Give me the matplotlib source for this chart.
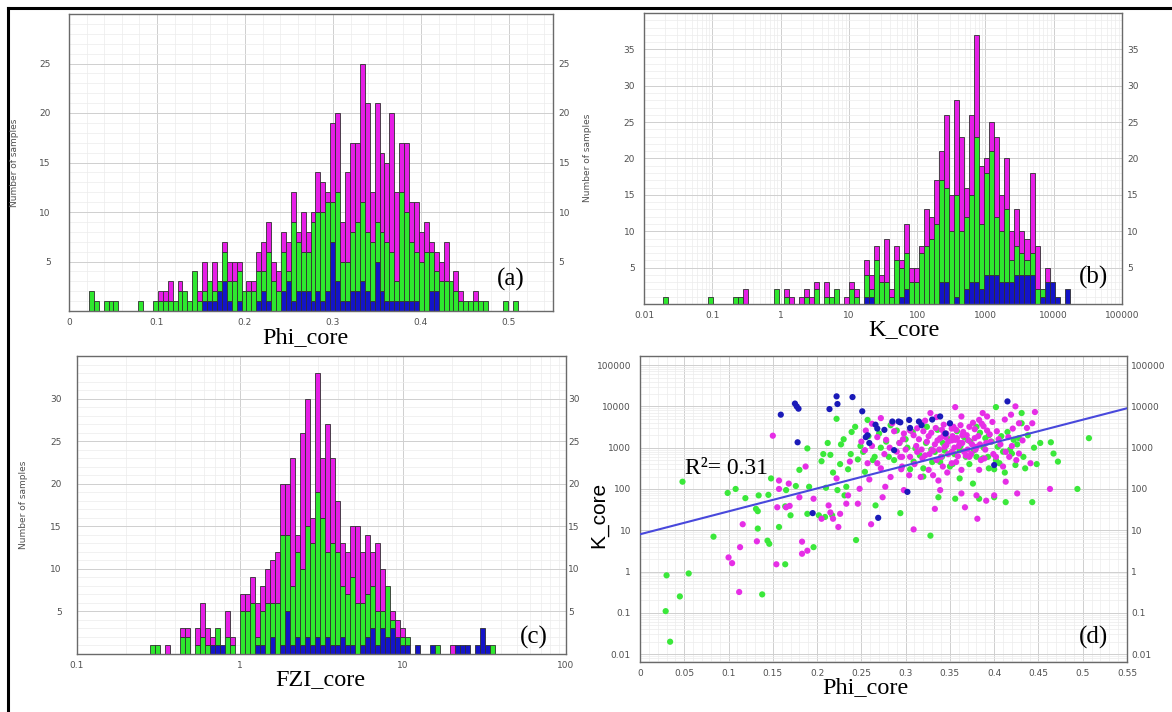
import numpy as np
import matplotlib
matplotlib.use('Agg')
import matplotlib.pyplot as plt
from matplotlib.ticker import FixedLocator, MultipleLocator, NullFormatter
from matplotlib.lines import Line2D

# ---------------- data ----------------
# (a) Phi_core histogram: linear bins
phi_bin_start = 0.0225
phi_bin_width = 0.0056
phi_blue = [0,0,0,0,0,0,0,0,0,0, 0,0,0,0,0,0,0,0,0,0, 0,0,0,1,1,1,2,3,1,0,
            1,0,0,0,1,2,1,0,0,2, 3,1,2,2,2,1,2,1,2,7, 3,1,1,2,2,3,2,1,5,2,
            1,1,1,1,1,1,1,0,0,2, 2,0,0,0,0,0,0,0,0,0, 0,0,0,0,0,0,0]
phi_green = [2,1,0,1,1,1,0,0,0,0, 1,0,0,1,1,1,1,1,2,2, 1,4,1,1,2,1,1,3,2,3,
             3,2,2,2,3,2,5,3,2,4, 1,8,5,4,4,8,8,9,9,4, 9,4,4,6,7,8,6,6,4,6,
             6,5,2,11,9,6,5,5,6,4, 2,3,3,3,2,1,1,1,1,1, 1,0,0,0,1,0,1]
phi_magenta = [0,0,0,0,0,0,0,0,0,0, 0,0,0,0,1,1,2,0,1,0, 0,0,1,3,0,3,0,1,2,2,
               1,0,1,1,2,3,3,2,2,2, 3,3,1,4,2,1,4,3,1,8, 8,4,9,9,8,14,13,5,12,8,
               8,14,9,5,7,4,5,3,3,1, 2,2,4,0,2,1,0,0,1,0, 0,0,0,0,0,0,0]

# (b) K_core histogram: log10 bins
k_bin_start = -1.72
k_bin_width = 0.0735
k_blue = [0]*40 + [1,1,0,0,0,0,0,1,2,0, 0,0,0,0,0,3,3,0,1,0,
                   2,3,3,2,4,4,4,3,3,3, 4,4,4,4,0,1,3,3,1,0, 2]
k_green = [1,0,0,0,0,0,0,0,0,1, 0,0,0,0,1,1,0,0,0,0, 0,0,2,0,1,0,0,0,1,0,
           2,0,1,1,2,0,0,2,1,0, 3,1,6,3,3,1,6,4,5,3, 3,7,8,9,11,14,13,10,14,10,
           10,12,20,9,14,17,8,7,10,3, 4,3,2,3,2,1,0,0,0,0, 0]
k_magenta = [0,0,0,0,0,0,0,0,0,0, 0,0,0,0,0,0,2,0,0,0, 0,0,0,0,1,1,0,1,1,1,
             1,0,2,0,0,0,1,1,1,0, 2,2,2,1,6,1,2,1,4,2, 2,1,5,3,6,4,10,5,13,13,
             4,11,14,8,2,4,11,5,7,4, 5,3,3,11,6,0,2,0,0,0, 0]

# (c) FZI_core histogram: log10 bins
fzi_bin_start = -0.55
fzi_bin_width = 0.0306
fzi_blue = [0,0,0,0,0,0,0,0,0,0, 0,0,1,1,1,0,0,0,0,0, 0,1,1,0,2,0,1,5,1,2,
            1,2,1,2,1,2,1,1,2,1, 1,0,1,2,3,1,3,2,3,2, 1,1,0,1,0,0,1,0,0,0,
            0,1,1,1,0,1,3,1,0]
fzi_green = [1,1,0,0,0,0,2,2,0,1, 2,1,0,2,0,2,1,0,5,5, 6,1,4,6,4,6,13,9,7,10,
             9,13,12,17,15,10,12,11,6,6, 8,6,5,5,5,4,2,6,1,0, 1,1,0,0,0,0,0,1,0,0,
             0,0,0,0,0,0,0,0,1]
fzi_magenta = [0,0,0,1,0,0,1,1,0,2, 4,2,1,0,0,3,1,0,2,2, 3,4,3,4,5,6,6,6,15,2,
               16,15,3,14,7,15,10,6,5,5, 6,9,6,7,4,8,5,0,1,2, 1,0,0,0,0,0,0,0,0,0,
               1,0,0,0,0,0,0,0,0]

# (d) scatter Phi_core vs K_core
green_phi = [0.030, 0.055, 0.045, 0.029, 0.034, 0.048, 0.083, 0.099, 0.108, 0.119,
             0.131, 0.133, 0.134, 0.133, 0.144, 0.146, 0.138, 0.145, 0.148, 0.157,
             0.165, 0.164, 0.164, 0.170, 0.176, 0.180, 0.189, 0.189, 0.191, 0.196,
             0.202, 0.205, 0.207, 0.209, 0.210, 0.215, 0.217, 0.222, 0.223, 0.227,
             0.231, 0.233, 0.235, 0.239, 0.244, 0.246, 0.252, 0.254, 0.257, 0.263,
             0.266, 0.270, 0.278, 0.281, 0.294, 0.293,
             0.402, 0.431, 0.452, 0.464, 0.467, 0.472, 0.494, 0.507, 0.424, 0.435,
             0.443, 0.413, 0.400, 0.383, 0.356, 0.337, 0.328, 0.376, 0.394, 0.404,
             0.406, 0.422, 0.428, 0.394, 0.380, 0.370, 0.361, 0.350, 0.341, 0.320,
             0.309, 0.324, 0.311, 0.333, 0.361, 0.387, 0.431, 0.420,
             0.342, 0.355, 0.366, 0.372, 0.390, 0.410, 0.415, 0.300, 0.290, 0.305,
             0.320, 0.345, 0.380, 0.400, 0.330,
             0.302, 0.308, 0.316, 0.323, 0.329, 0.336, 0.339, 0.344, 0.349, 0.353,
             0.358, 0.362, 0.368, 0.373, 0.377, 0.384, 0.388, 0.393, 0.397, 0.402,
             0.408, 0.412, 0.418, 0.426, 0.433, 0.438, 0.445, 0.448, 0.287, 0.283,
             0.272, 0.265, 0.258, 0.249, 0.243, 0.238, 0.230, 0.226, 0.218, 0.212]
green_K = [0.81, 0.9, 0.25, 0.11, 0.02, 150, 7, 80, 100, 60,
           33, 29, 70, 11, 5.6, 4.7, 0.28, 72, 180, 12,
           94, 1.5, 38, 23, 118, 290, 960, 25, 113, 3.9,
           23, 470, 700, 21, 107, 670, 23, 5000, 94, 1200,
           70, 113, 300, 2400, 5.8, 520, 790, 260, 4700, 500,
           40, 2200, 1400, 600, 26, 1300,
           9600, 6900, 1300, 1350, 720, 460, 100, 1700, 380, 316,
           48, 48, 63, 58, 58, 63, 7.4, 135, 316, 1050,
           420, 1550, 1700, 2000, 3200, 1550, 870, 350, 600, 316,
           460, 3200, 960, 790, 180, 550, 3900, 720,
           1300, 700, 1800, 400, 1700, 800, 2400, 1600, 2600, 300,
           200, 2200, 600, 300, 450,
           1000, 2400, 650, 1300, 900, 2700, 450, 850, 1600, 400,
           2500, 1100, 600, 1400, 850, 2300, 1000, 600, 1400, 500,
           1900, 250, 900, 1200, 600, 2000, 1000, 400, 500, 3500,
           1000, 600, 1900, 1100, 3200, 700, 1600, 400, 250, 1300]

magenta_phi = [0.150, 0.157, 0.157, 0.165, 0.155, 0.154, 0.116, 0.113, 0.100, 0.104,
               0.112, 0.132, 0.168, 0.169, 0.180, 0.183, 0.183, 0.189, 0.187, 0.196,
               0.205, 0.213, 0.215, 0.218, 0.224, 0.222, 0.226, 0.233, 0.235, 0.237,
               0.246, 0.248, 0.259, 0.261, 0.268, 0.272, 0.274, 0.277, 0.283, 0.254,
               0.257, 0.272, 0.278, 0.285, 0.296, 0.296, 0.298,
               0.356, 0.363, 0.424, 0.446, 0.419, 0.428, 0.443, 0.328, 0.387, 0.392,
               0.383, 0.372, 0.309, 0.320, 0.339, 0.346, 0.357, 0.364, 0.378, 0.344,
               0.352, 0.361, 0.330, 0.319, 0.335, 0.352, 0.363, 0.331, 0.337, 0.304,
               0.339, 0.333, 0.309, 0.363, 0.367, 0.380, 0.381, 0.391, 0.400, 0.413,
               0.426, 0.441, 0.463, 0.383, 0.402, 0.413, 0.417, 0.428, 0.372, 0.380,
               0.391, 0.293, 0.294, 0.313, 0.324, 0.348, 0.356, 0.341, 0.354, 0.313,
               0.298, 0.326, 0.317,
               0.345, 0.352, 0.360, 0.365, 0.370, 0.375, 0.333, 0.327, 0.318, 0.310,
               0.305, 0.295, 0.342, 0.347, 0.357, 0.368, 0.385, 0.390, 0.395, 0.405,
               0.410, 0.420, 0.398, 0.388, 0.378, 0.315, 0.322, 0.335, 0.343, 0.352,
               0.305, 0.312, 0.318, 0.322, 0.326, 0.329, 0.331, 0.334, 0.336, 0.338,
               0.340, 0.343, 0.346, 0.348, 0.350, 0.353, 0.355, 0.358, 0.359, 0.362,
               0.364, 0.366, 0.369, 0.371, 0.374, 0.376, 0.379, 0.382, 0.384, 0.386,
               0.389, 0.392, 0.396, 0.399, 0.403, 0.407, 0.412, 0.416, 0.421, 0.425,
               0.432, 0.437, 0.300, 0.297, 0.290, 0.287, 0.282, 0.276, 0.268, 0.262,
               0.262, 0.255, 0.250]
magenta_K = [1950, 160, 100, 36, 36, 1.5, 14, 3.9, 2.2, 1.6,
             0.32, 5.4, 135, 39, 63, 5.3, 2.7, 3.2, 350, 58,
             19, 40, 27, 19, 12, 180, 25, 44, 70, 460,
             44, 101, 170, 14, 420, 316, 63, 113, 195, 870,
             420, 5200, 1550, 3900, 600, 350, 94,
             9600, 5700, 10000, 7300, 6300, 3900, 3900, 6900, 6900, 5700,
             4700, 3200, 2000, 2500, 1700, 2200, 2700, 2000, 1700, 1050,
             790, 1300, 870, 550, 500, 420, 290, 215, 160, 215,
             94, 33, 10.5, 78, 36, 70, 19, 52, 70, 150,
             78, 420, 100, 290, 600, 790, 600, 720, 600, 1050,
             1300, 1300, 600, 790, 1400, 1400, 1550, 2700, 3200, 2950,
             2200, 290, 195,
             1800, 1500, 1100, 2400, 900, 1200, 1200, 700, 900, 400,
             600, 300, 350, 250, 450, 650, 500, 900, 2100, 1600,
             350, 1100, 4200, 3300, 2800, 1600, 4500, 5500, 3600, 2900,
             2600, 1100, 3800, 650, 1900, 2300, 850, 3000, 1500, 900,
             600, 2000, 1150, 700, 3800, 1900, 1000, 1700, 620, 3500,
             1300, 800, 2000, 1500, 700, 4000, 900, 1900, 1200, 3800,
             550, 2600, 1400, 700, 2500, 1200, 4800, 1800, 2900, 500,
             1500, 3000, 900, 1600, 800, 2500, 1000, 700, 1800, 1100,
             3800, 2600, 1400]

blue_phi = [0.159, 0.175, 0.177, 0.179, 0.178, 0.214, 0.222, 0.223, 0.240, 0.251,
            0.269, 0.195, 0.257, 0.266, 0.259, 0.276, 0.287, 0.294,
            0.415, 0.302, 0.304, 0.315, 0.350, 0.400, 0.285, 0.339,
            0.255, 0.268, 0.292, 0.318, 0.330, 0.345, 0.305]
blue_K = [6300, 11700, 10000, 8800, 1350, 8600, 17500, 11400, 16800, 7600,
          20, 26, 2000, 3600, 1300, 2700, 870, 4100,
          13200, 85, 4700, 4300, 3900, 380, 4300, 5700,
          1800, 2900, 4300, 3500, 4800, 2200, 3000]

# regression line (end points)
fit_phi = [0.0, 0.55]
fit_K = [8.0, 9000.0]
r2_text = "R\u00b2= 0.31"

# ---------------- style ----------------
W, H = 1172, 712
fig = plt.figure(figsize=(W / 100, H / 100), dpi=100)
fig.patch.set_facecolor('white')

BLUE = '#1414c8'
GREEN = '#2ee82e'
MAGENTA = '#e61ee6'
EDGE = '#303030'
TICK_C = '#505050'
SERIF = ['Liberation Serif', 'DejaVu Serif']


def ax_px(l, t, r, b):
    return fig.add_axes([l / W, 1 - b / H, (r - l) / W, (b - t) / H])


def style(ax, lpad, rpad, xpad):
    ax.set_facecolor('white')
    for s in ax.spines.values():
        s.set_color('#6a6a6a')
        s.set_linewidth(1.0)
    ax.set_axisbelow(True)
    ax.grid(True, which='major', color='#cfcfcf', lw=0.7)
    ax.grid(True, which='minor', color='#ececec', lw=0.5)
    ax.tick_params(axis='both', which='both', length=0, labelsize=6.5,
                   labelcolor=TICK_C)
    ax.tick_params(axis='x', pad=xpad)
    ax.tick_params(axis='y', pad=lpad)
    ax.yaxis.set_minor_formatter(NullFormatter())
    ax.xaxis.set_minor_formatter(NullFormatter())


def right_labels(ax, ticks, labels, rpad, log=False):
    tw = ax.twinx()
    if log:
        tw.set_yscale('log')
    tw.set_ylim(ax.get_ylim())
    tw.yaxis.set_major_locator(FixedLocator(ticks))
    tw.set_yticklabels(labels)
    tw.yaxis.set_minor_formatter(NullFormatter())
    tw.tick_params(axis='y', which='both', length=0, labelsize=6.5,
                   labelcolor=TICK_C, pad=rpad)
    for s in tw.spines.values():
        s.set_visible(False)
    return tw


def stacked(ax, left, width, b, g, m):
    b = np.asarray(b, float)
    g = np.asarray(g, float)
    m = np.asarray(m, float)
    kw = dict(align='edge', edgecolor=EDGE, linewidth=0.6)
    sel = b > 0
    ax.bar(left[sel], b[sel], width[sel], color=BLUE, **kw)
    sel = g > 0
    ax.bar(left[sel], g[sel], width[sel], bottom=b[sel], color=GREEN, **kw)
    sel = m > 0
    ax.bar(left[sel], m[sel], width[sel], bottom=(b + g)[sel], color=MAGENTA, **kw)


# ---------------- (a) ----------------
ax = ax_px(69, 14, 553, 311)
n = len(phi_green)
left = phi_bin_start + phi_bin_width * np.arange(n)
stacked(ax, left, np.full(n, phi_bin_width), phi_blue, phi_green, phi_magenta)
ax.set_xlim(0, 0.55)
ax.set_ylim(0, 30)
ax.xaxis.set_major_locator(FixedLocator([0, 0.1, 0.2, 0.3, 0.4, 0.5]))
ax.set_xticklabels(['0', '0.1', '0.2', '0.3', '0.4', '0.5'])
ax.xaxis.set_minor_locator(MultipleLocator(0.02))
ax.yaxis.set_major_locator(FixedLocator([5, 10, 15, 20, 25]))
ax.set_yticklabels(['5', '10', '15', '20', '25'])
ax.yaxis.set_minor_locator(MultipleLocator(1))
style(ax, 13, 4, 5)
right_labels(ax, [5, 10, 15, 20, 25], ['5', '10', '15', '20', '25'], 4)
fig.text(15 / W, 1 - 163 / H, 'Number of samples', rotation=90, fontsize=6.5,
         color=TICK_C, ha='center', va='center')
fig.text(305 / W, 1 - 338 / H, 'Phi_core', fontsize=17.5, family=SERIF,
         ha='center', va='center')
fig.text(511 / W, 1 - 279 / H, '(a)', fontsize=18, family=SERIF,
         ha='center', va='center')

# ---------------- (b) ----------------
ax = ax_px(644, 13, 1122, 304)
n = len(k_green)
e = 10 ** (k_bin_start + k_bin_width * np.arange(n + 1))
stacked(ax, e[:-1], np.diff(e), k_blue, k_green, k_magenta)
ax.set_xscale('log')
ax.set_xlim(0.01, 100000)
ax.set_ylim(0, 40)
xt = [0.01, 0.1, 1, 10, 100, 1000, 10000, 100000]
ax.xaxis.set_major_locator(FixedLocator(xt))
ax.set_xticklabels(['0.01', '0.1', '1', '10', '100', '1000', '10000', '100000'])
ax.yaxis.set_major_locator(FixedLocator([5, 10, 15, 20, 25, 30, 35]))
ax.set_yticklabels(['5', '10', '15', '20', '25', '30', '35'])
ax.yaxis.set_minor_locator(MultipleLocator(1))
style(ax, 6.5, 3.6, 5)
right_labels(ax, [5, 10, 15, 20, 25, 30, 35],
             ['5', '10', '15', '20', '25', '30', '35'], 3.6)
fig.text(587 / W, 1 - 158 / H, 'Number of samples', rotation=90, fontsize=6.5,
         color=TICK_C, ha='center', va='center')
fig.text(904 / W, 1 - 330 / H, 'K_core', fontsize=17.5, family=SERIF,
         ha='center', va='center')
fig.text(1093 / W, 1 - 277 / H, '(b)', fontsize=18, family=SERIF,
         ha='center', va='center')

# ---------------- (c) ----------------
ax = ax_px(77, 356, 566, 654)
n = len(fzi_green)
e = 10 ** (fzi_bin_start + fzi_bin_width * np.arange(n + 1))
stacked(ax, e[:-1], np.diff(e), fzi_blue, fzi_green, fzi_magenta)
ax.set_xscale('log')
ax.set_xlim(0.1, 100)
ax.set_ylim(0, 35)
ax.xaxis.set_major_locator(FixedLocator([0.1, 1, 10, 100]))
ax.set_xticklabels(['0.1', '1', '10', '100'])
ax.yaxis.set_major_locator(FixedLocator([5, 10, 15, 20, 25, 30]))
ax.set_yticklabels(['5', '10', '15', '20', '25', '30'])
ax.yaxis.set_minor_locator(MultipleLocator(1))
style(ax, 11, 1.5, 5)
right_labels(ax, [5, 10, 15, 20, 25, 30], ['5', '10', '15', '20', '25', '30'], 1.5)
fig.text(24 / W, 1 - 505 / H, 'Number of samples', rotation=90, fontsize=6.5,
         color=TICK_C, ha='center', va='center')
fig.text(320 / W, 1 - 680 / H, 'FZI_core', fontsize=17.5, family=SERIF,
         ha='center', va='center')
fig.text(534 / W, 1 - 637 / H, '(c)', fontsize=18, family=SERIF,
         ha='center', va='center')

# ---------------- (d) ----------------
ax = ax_px(640, 356, 1127, 662)
ax.set_yscale('log')
ax.scatter(green_phi, green_K, s=20, color='#3ae83a', edgecolors='none', zorder=3)
ax.scatter(magenta_phi, magenta_K, s=20, color='#e62ee6', edgecolors='none', zorder=3)
ax.scatter(blue_phi, blue_K, s=20, color='#1a1ab8', edgecolors='none', zorder=3)
ax.plot(fit_phi, fit_K, color='#4848dc', lw=1.5, zorder=4)
ax.set_xlim(0, 0.55)
ax.set_ylim(10 ** -2.19, 10 ** 5.22)
ax.xaxis.set_major_locator(FixedLocator([0, 0.05, 0.1, 0.15, 0.2, 0.25, 0.3, 0.35,
                                         0.4, 0.45, 0.5, 0.55]))
ax.set_xticklabels(['0', '0.05', '0.1', '0.15', '0.2', '0.25', '0.3', '0.35',
                    '0.4', '0.45', '0.5', '0.55'])
ax.xaxis.set_minor_locator(MultipleLocator(0.01))
yt = [0.01, 0.1, 1, 10, 100, 1000, 10000, 100000]
yl = ['0.01', '0.1', '1', '10', '100', '1000', '10000', '100000']
ax.yaxis.set_major_locator(FixedLocator(yt))
ax.set_yticklabels(yl)
style(ax, 6.5, 3, 5)
right_labels(ax, yt, yl, 3, log=True)
fig.text(599 / W, 1 - 515 / H, 'K_core', rotation=90, fontsize=15,
         family=['Liberation Sans', 'DejaVu Sans'], ha='center', va='center')
fig.text(865 / W, 1 - 688 / H, 'Phi_core', fontsize=17.5, family=SERIF,
         ha='center', va='center')
fig.text(1093 / W, 1 - 637 / H, '(d)', fontsize=18, family=SERIF,
         ha='center', va='center')
fig.text(685 / W, 1 - 468 / H, r2_text, fontsize=17, family=SERIF,
         ha='left', va='center')

# ---------------- outer frame ----------------
fig.add_artist(Line2D([8 / W, 1], [1 - 8 / H, 1 - 8 / H], color='black', lw=2.2))
fig.add_artist(Line2D([8 / W, 8 / W], [0, 1 - 8 / H], color='black', lw=2.2))

fig.savefig('out.png', dpi=100, facecolor='white')
